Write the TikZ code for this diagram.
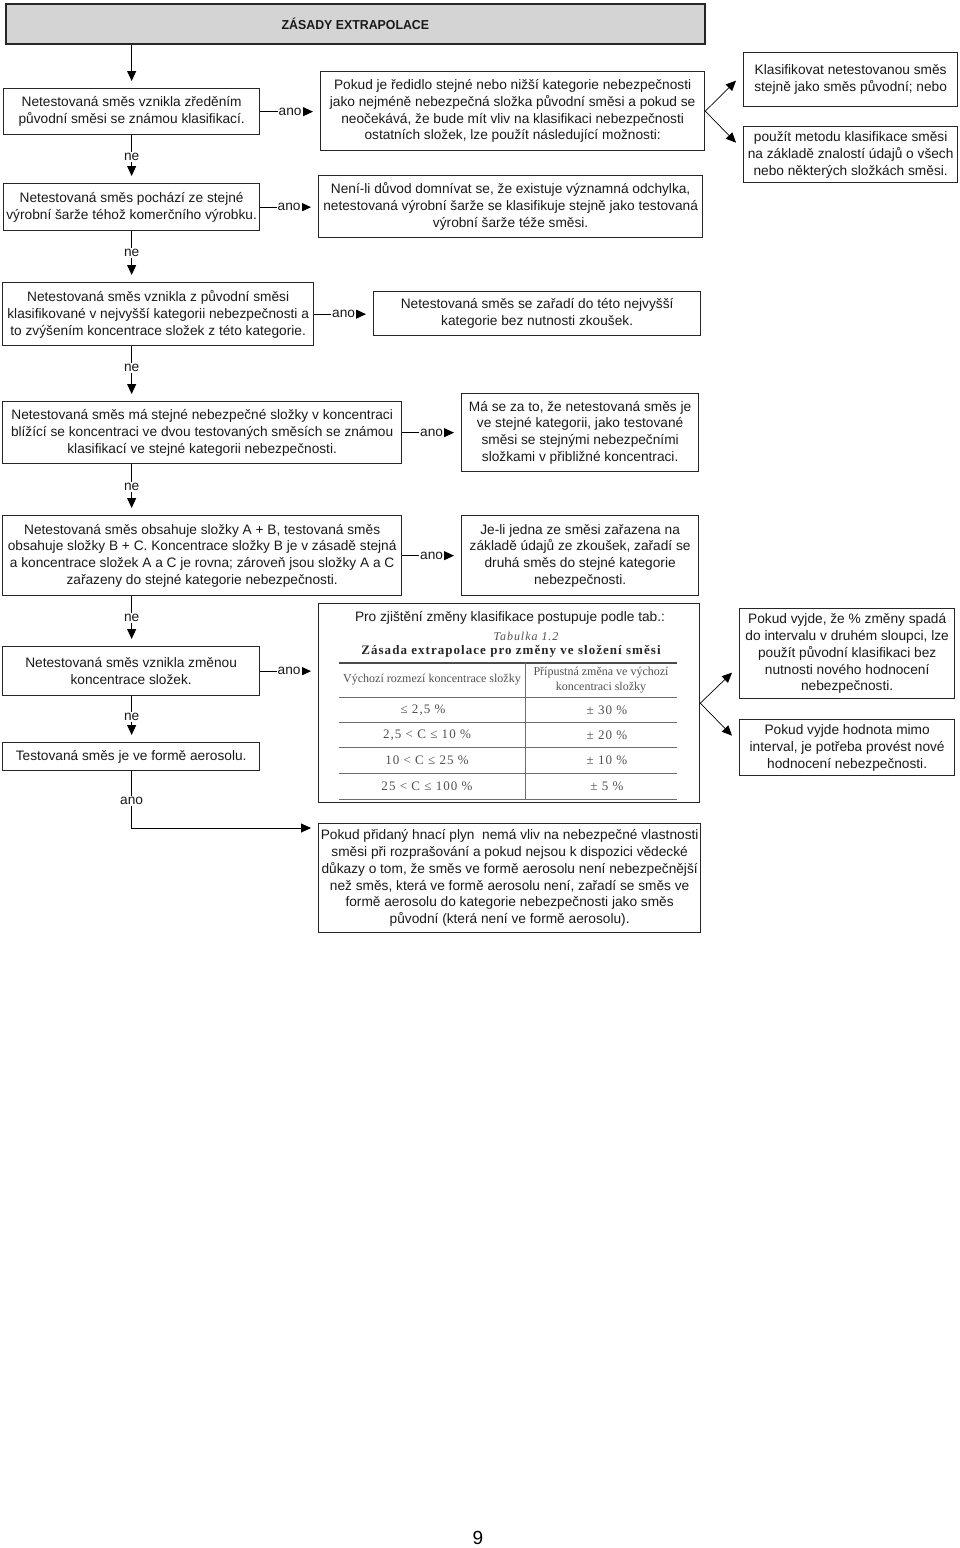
\documentclass[tikz,border=0pt]{standalone}
\usepackage{fontspec}
\setmainfont{Liberation Sans}
\newfontfamily\tabserif{Liberation Serif}
\newfontfamily\tabserifwide[LetterSpace=8]{Liberation Serif}
\newfontfamily\tabseriftitle[LetterSpace=8]{Liberation Serif}
\usetikzlibrary{arrows.meta,calc}
\definecolor{titlegray}{RGB}{212,212,212}
\definecolor{tabtext}{RGB}{80,80,80}
\definecolor{tabrulec}{RGB}{110,110,110}
\begin{document}
\begin{tikzpicture}[x=1pt,y=-1pt,
  box/.style={draw=black!85, line width=1.3pt, inner sep=0pt, align=center, anchor=north west,
    font=\fontsize{13.7}{16.8}\selectfont, text=black!90},
  lbl/.style={fill=white, inner sep=1.2pt, font=\fontsize{13.7}{15}\selectfont, text=black!90},
  arr/.style={-{Triangle[length=10pt,width=9pt]}, line width=0.9pt, shorten >=7pt},
  fork/.style={-{Triangle[length=10pt,width=9pt]}, line width=0.7pt},
  tabt/.style={inner sep=0pt, text=tabtext, font=\tabserif\fontsize{12}{14.5}\selectfont, align=center},
  tabv/.style={inner sep=0pt, text=tabtext, font=\tabserifwide\fontsize{13}{15}\selectfont},
  tabrule/.style={draw=tabrulec, line width=1pt}
]
\useasboundingbox (0,0) rectangle (960,1548);

% title
\node[box, fill=titlegray, line width=1.8pt, minimum width=699pt, minimum height=40pt,
  font=\bfseries\fontsize{13}{15}\selectfont] (title) at (5,3) {\scalebox{0.95}[1]{ZÁSADY EXTRAPOLACE}};

% left column
\node[box, minimum width=256pt, minimum height=46pt] (b1) at (3,88)
  {Netestovaná směs vznikla zředěním\\původní směsi se známou klasifikací.};
\node[box, minimum width=256pt, minimum height=47pt] (b2) at (3,183)
  {Netestovaná směs pochází ze stejné\\výrobní šarže téhož komerčního výrobku.};
\node[box, minimum width=311pt, minimum height=63pt] (b3) at (2,282)
  {Netestovaná směs vznikla z původní směsi\\klasifikované v nejvyšší kategorii nebezpečnosti a\\to zvýšením koncentrace složek z této kategorie.};
\node[box, minimum width=399pt, minimum height=62pt] (b4) at (2,401)
  {Netestovaná směs má stejné nebezpečné složky v koncentraci\\blížící se koncentraci ve dvou testovaných směsích se známou\\klasifikací ve stejné kategorii nebezpečnosti.};
\node[box, minimum width=399pt, minimum height=80pt] (b5) at (2,515)
  {Netestovaná směs obsahuje složky A + B, testovaná směs\\obsahuje složky B + C. Koncentrace složky B je v zásadě stejná\\a koncentrace složek A a C je rovna; zároveň jsou složky A a C\\zařazeny do stejné kategorie nebezpečnosti.};
\node[box, minimum width=257pt, minimum height=49pt] (b6) at (2,646)
  {Netestovaná směs vznikla změnou\\koncentrace složek.};
\node[box, minimum width=257pt, minimum height=28pt] (b7) at (2,742)
  {Testovaná směs je ve formě aerosolu.};

% right column
\node[box, minimum width=384pt, minimum height=79pt] (r1) at (320,71)
  {Pokud je ředidlo stejné nebo nižší kategorie nebezpečnosti\\jako nejméně nebezpečná složka původní směsi a pokud se\\neočekává, že bude mít vliv na klasifikaci nebezpečnosti\\ostatních složek, lze použít následující možnosti:};
\node[box, minimum width=384pt, minimum height=62pt] (r2) at (318,175)
  {Není-li důvod domnívat se, že existuje významná odchylka,\\netestovaná výrobní šarže se klasifikuje stejně jako testovaná\\výrobní šarže téže směsi.};
\node[box, minimum width=327pt, minimum height=44pt] (r3) at (373,291)
  {Netestovaná směs se zařadí do této nejvyšší\\kategorie bez nutnosti zkoušek.};
\node[box, minimum width=237pt, minimum height=78pt] (r4) at (461,393)
  {Má se za to, že netestovaná směs je\\ve stejné kategorii, jako testované\\směsi se stejnými nebezpečními\\složkami v přibližné koncentraci.};
\node[box, minimum width=237pt, minimum height=80pt] (r5) at (461,515)
  {Je-li jedna ze směsi zařazena na\\základě údajů ze zkoušek, zařadí se\\druhá směs do stejné kategorie\\nebezpečnosti.};
\node[box, minimum width=381pt, minimum height=199pt] (r6) at (318,603) {};
\node[box, minimum width=382pt, minimum height=109pt] (r7) at (318,823)
  {Pokud přidaný hnací plyn\ \ nemá vliv na nebezpečné vlastnosti\\směsi při rozprašování a pokud nejsou k dispozici vědecké\\důkazy o tom, že směs ve formě aerosolu není nebezpečnější\\než směs, která ve formě aerosolu není, zařadí se směs ve\\formě aerosolu do kategorie nebezpečnosti jako směs\\původní (která není ve formě aerosolu).};

% far right
\node[box, minimum width=214pt, minimum height=54pt] (kl1) at (743,52)
  {Klasifikovat netestovanou směs\\stejně jako směs původní; nebo};
\node[box, minimum width=214pt, minimum height=56pt] (kl2) at (743,126)
  {použít metodu klasifikace směsi\\na základě znalostí údajů o všech\\nebo některých složkách směsi.};
\node[box, minimum width=215pt, minimum height=90pt] (p1) at (739,608)
  {Pokud vyjde, že \% změny spadá\\do intervalu v druhém sloupci, lze\\použít původní klasifikaci bez\\nutnosti nového hodnocení\\nebezpečnosti.};
\node[box, minimum width=215pt, minimum height=56pt] (p2) at (739,719)
  {Pokud vyjde hodnota mimo\\interval, je potřeba provést nové\\hodnocení nebezpečnosti.};

% table inside r6
\node[inner sep=0pt, font=\fontsize{13.7}{15}\selectfont, text=black!90] (t0) at (510,618)
  {Pro zjištění změny klasifikace postupuje podle tab.:};
\node[inner sep=0pt, text=tabtext, font=\tabseriftitle\itshape\fontsize{12}{14}\selectfont] (t1) at (526,636) {Tabulka 1.2};
\node[inner sep=0pt, text=black!85, font=\tabserifwide\bfseries\fontsize{13}{14}\selectfont] (t2) at (511,651)
  {Zásada extrapolace pro změny ve složení směsi};
\draw[tabrule, line width=1.5pt, draw=black!70] (339,663) -- (677,663);
\draw[tabrule] (525,663) -- (525,799);
\foreach \yy in {697,722,747,773,799} \draw[tabrule] (339,\yy) -- (677,\yy);
\node[tabt] (h1) at (432,680) {Výchozí rozmezí koncentrace složky};
\node[tabt] (h2) at (601,680) {Přípustná změna ve výchozí\\koncentraci složky};
\node[tabv] (c11) at (423,710) {≤ 2,5 \%};
\node[tabv] (c12) at (607,710) {± 30 \%};
\node[tabv] (c21) at (427,735) {2,5 < C ≤ 10 \%};
\node[tabv] (c22) at (607,735) {± 20 \%};
\node[tabv] (c31) at (427,760) {10 < C ≤ 25 \%};
\node[tabv] (c32) at (607,760) {± 10 \%};
\node[tabv] (c41) at (427,786) {25 < C ≤ 100 \%};
\node[tabv] (c42) at (607,786) {± 5 \%};

% page number
\node[inner sep=0pt, font=\fontsize{19}{19}\selectfont] (pg) at (478,1538) {9};

% vertical flow
\draw[arr] (title.south -| b1.north) -- (b1.north);
\draw[arr] (b1.south) -- node[lbl,pos=0.45]{ne} (b1.south |- b2.north);
\draw[arr] (b2.south -| b1.south) -- node[lbl,pos=0.42]{ne} (b1.south |- b3.north);
\draw[arr] (b3.south -| b1.south) -- node[lbl,pos=0.4]{ne} (b1.south |- b4.north);
\draw[arr] (b4.south -| b1.south) -- node[lbl,pos=0.44]{ne} (b1.south |- b5.north);
\draw[arr] (b5.south -| b1.south) -- node[lbl,pos=0.43]{ne} (b1.south |- b6.north);
\draw[arr] (b6.south -| b1.south) -- node[lbl,pos=0.45]{ne} (b1.south |- b7.north);
\coordinate (r7in) at ($(r7.north west)+(0,5)$);
\draw[arr] (b7.south -| b1.south) |- node[lbl,pos=0.26]{ano} (r7in);

% ano arrows
\draw[arr] (b1.east) -- node[lbl]{ano} (b1.east -| r1.west);
\draw[arr] (b2.east) -- node[lbl]{ano} (b2.east -| r2.west);
\draw[arr] (b3.east) -- node[lbl]{ano} (b3.east -| r3.west);
\draw[arr] (b4.east) -- node[lbl]{ano} (b4.east -| r4.west);
\draw[arr] (b5.east) -- node[lbl]{ano} (b5.east -| r5.west);
\draw[arr] (b6.east) -- node[lbl]{ano} (b6.east -| r6.west);

% forks
\draw[fork] (r1.east) -- ($(kl1.west)+(-7,1)$);
\draw[fork] (r1.east) -- ($(kl2.west)+(-7,-12)$);
\draw[fork] (r6.east) -- ($(p1.west)+(-7,19)$);
\draw[fork] (r6.east) -- ($(p2.west)+(-7,-12)$);
\end{tikzpicture}
\end{document}
